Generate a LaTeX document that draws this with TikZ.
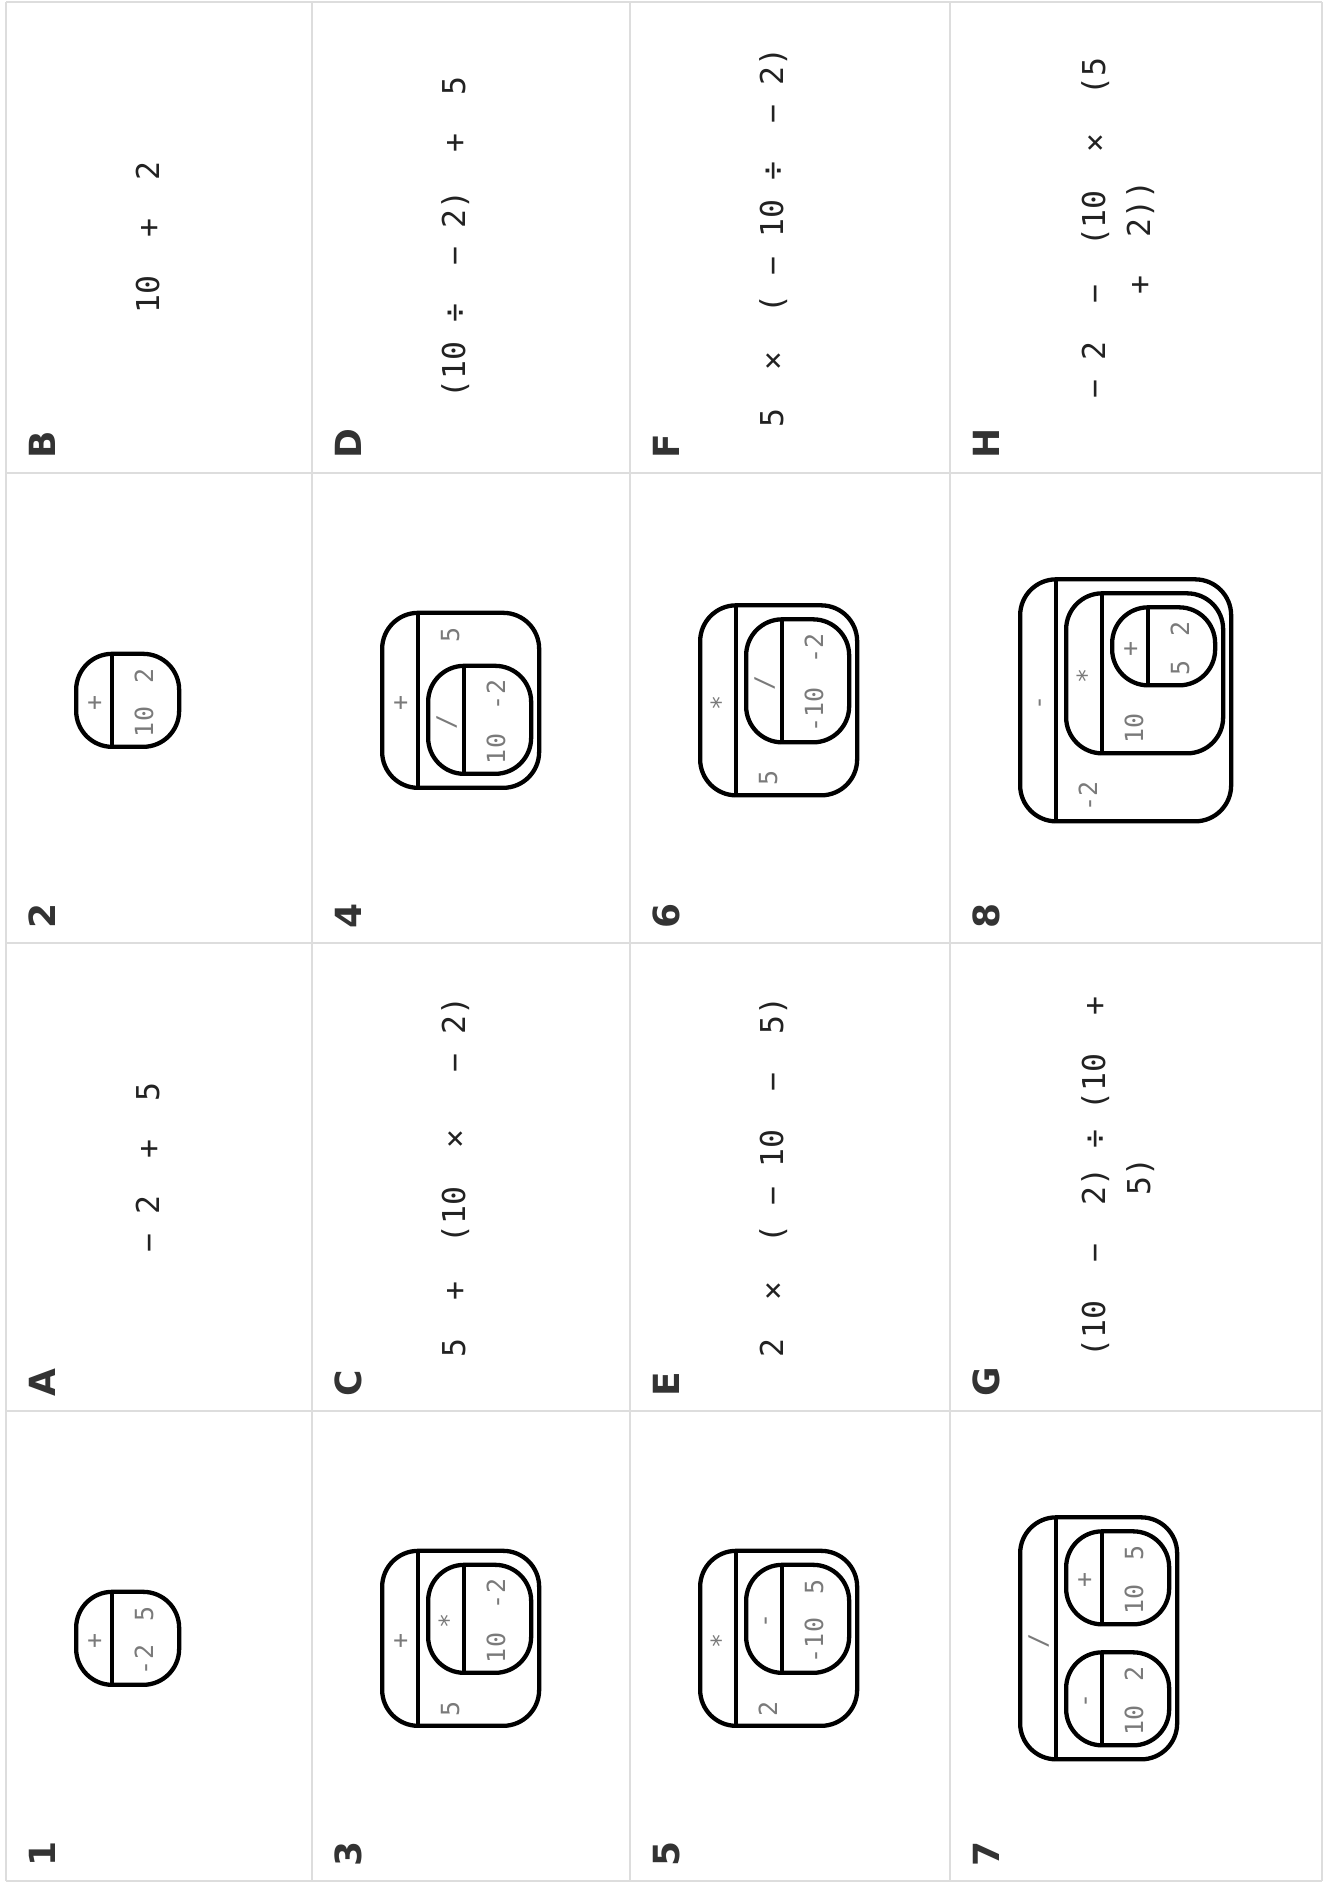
\documentclass[tikz,border=0pt]{standalone}
\usepackage{fontspec}
\newfontfamily\exprfont{DejaVu Sans Mono}
\newfontfamily\tagfont{DejaVu Sans}
\definecolor{gridgray}{HTML}{DDDDDD}
\definecolor{argray}{HTML}{7A7A7A}
\definecolor{inkdark}{HTML}{222222}
\definecolor{tagdark}{HTML}{333333}

\begin{document}
\begin{tikzpicture}[
        x=1pt, y=-1pt,
        opbox/.style={rectangle, draw=black, line width=4.3pt, rounded corners=36pt, inner sep=0pt, anchor=north west},
        divider/.style={draw=black, line width=4.3pt},
        optext/.style={anchor=base, inner sep=0pt, text=argray, font=\exprfont\fontsize{25}{30}\selectfont},
        startext/.style={optext, yshift=-2.5pt},
        argtext/.style={optext},
        exprtext/.style={anchor=base, inner sep=0pt, text=inkdark, font=\exprfont\fontsize{31.5}{38}\selectfont},
        celltag/.style={anchor=base west, inner sep=0pt, text=tagdark, font=\tagfont\bfseries\fontsize{36}{40}\selectfont},
        gridline/.style={draw=gridgray, line width=2pt}
    ]
    \begin{scope}[rotate=90, transform shape]
    \useasboundingbox (0,0) rectangle (1883,1328);

    \foreach \cu in {2,472,940,1410,1881}
        \draw[gridline] (\cu,6) -- (\cu,1322);
    \foreach \rv in {6,312,630,950,1322}
        \draw[gridline] (2,\rv) -- (1881,\rv);

    \foreach \tag/\cu/\rv in {1/2/6, A/472/6, 2/940/6, B/1410/6, 3/2/312, C/472/312, 4/940/312, D/1410/312,
                              5/2/630, E/472/630, 6/940/630, F/1410/630, 7/2/950, G/472/950, 8/940/950, H/1410/950}
        \node[celltag] (tag\tag) at (\cu+14,\rv+49) {\tag};

    \node[exprtext] (exA) at (706,159) {~−~2~~+~~5};
    \node[exprtext] (exB) at (1645.5,159) {10~~+~~2};
    \node[exprtext] (exC) at (706,465) {5~~+~~(10~~×~~~−~2)};
    \node[exprtext] (exD) at (1645.5,465) {(10~÷~~−~2)~~+~~5};
    \node[exprtext] (exE) at (706,783) {2~~×~~(~−~10~~−~~5)};
    \node[exprtext] (exF) at (1645.5,783) {5~~×~~(~−~10~÷~~−~2)};
    \node[exprtext] (exG) at (706,1105) {(10~~−~~2)~÷~(10~~+};
    \node[exprtext] (exGb) at (706,1150) {5)};
    \node[exprtext] (exH) at (1645.5,1105) {~−~2~~−~~(10~~×~~(5};
    \node[exprtext] (exHb) at (1645.5,1150) {+~~2))};

    \node[opbox, minimum width=93pt, minimum height=103pt] (b1) at (196,74) {};
    \draw[divider] (196,112) -- (289,112);
    \node[optext] (b1op) at (242.5,102.5) {+};
    \node[argtext] (b1x) at (223,153) {-2};
    \node[argtext] (b1y) at (269.5,153) {5};

    \node[opbox, minimum width=93pt, minimum height=103pt] (b2) at (1134,74) {};
    \draw[divider] (1134,112) -- (1227,112);
    \node[optext] (b2op) at (1180.5,102.5) {+};
    \node[argtext] (b2x) at (1161,153) {10};
    \node[argtext] (b2y) at (1207.5,153) {2};

    \node[opbox, minimum width=175pt, minimum height=157pt] (b3) at (155,380) {};
    \draw[divider] (155,418) -- (330,418);
    \node[optext] (b3op) at (242.5,408.5) {+};
    \node[argtext] (b3x) at (174.5,459) {5};
    \node[opbox, minimum width=108pt, minimum height=103pt] (b3in) at (208,426) {};
    \draw[divider] (208,464) -- (316,464);
    \node[startext] (b3inop) at (262,454.5) {*};
    \node[argtext] (b3inx) at (235,505) {10};
    \node[argtext] (b3iny) at (289,505) {-2};

    \node[opbox, minimum width=175pt, minimum height=157pt] (b4) at (1093,380) {};
    \draw[divider] (1093,418) -- (1268,418);
    \node[optext] (b4op) at (1180.5,408.5) {+};
    \node[opbox, minimum width=108pt, minimum height=103pt] (b4in) at (1107,426) {};
    \draw[divider] (1107,464) -- (1215,464);
    \node[optext] (b4inop) at (1161,454.5) {/};
    \node[argtext] (b4inx) at (1134,505) {10};
    \node[argtext] (b4iny) at (1188,505) {-2};
    \node[argtext] (b4y) at (1248.5,459) {5};

    \node[opbox, minimum width=175pt, minimum height=157pt] (b5) at (155,698) {};
    \draw[divider] (155,736) -- (330,736);
    \node[startext] (b5op) at (242.5,726.5) {*};
    \node[argtext] (b5x) at (174.5,777) {2};
    \node[opbox, minimum width=108pt, minimum height=103pt] (b5in) at (208,744) {};
    \draw[divider] (208,782) -- (316,782);
    \node[optext] (b5inop) at (262,772.5) {-};
    \node[argtext] (b5inx) at (242.5,823) {-10};
    \node[argtext] (b5iny) at (296.5,823) {5};

    \node[opbox, minimum width=190pt, minimum height=157pt] (b6) at (1085.5,698) {};
    \draw[divider] (1085.5,736) -- (1275.5,736);
    \node[startext] (b6op) at (1180.5,726.5) {*};
    \node[argtext] (b6x) at (1105,777) {5};
    \node[opbox, minimum width=123pt, minimum height=103pt] (b6in) at (1138.5,744) {};
    \draw[divider] (1138.5,782) -- (1261.5,782);
    \node[optext] (b6inop) at (1200,772.5) {/};
    \node[argtext] (b6inx) at (1173,823) {-10};
    \node[argtext] (b6iny) at (1234.5,823) {-2};

    \node[opbox, minimum width=242pt, minimum height=157pt] (b7) at (121.5,1018) {};
    \draw[divider] (121.5,1056) -- (363.5,1056);
    \node[optext] (b7op) at (242.5,1046.5) {/};
    \node[opbox, minimum width=93pt, minimum height=103pt] (b7a) at (135.5,1064) {};
    \draw[divider] (135.5,1102) -- (228.5,1102);
    \node[optext] (b7aop) at (182,1092.5) {-};
    \node[argtext] (b7ax) at (162.5,1143) {10};
    \node[argtext] (b7ay) at (209,1143) {2};
    \node[opbox, minimum width=93pt, minimum height=103pt] (b7b) at (256.5,1064) {};
    \draw[divider] (256.5,1102) -- (349.5,1102);
    \node[optext] (b7bop) at (303,1092.5) {+};
    \node[argtext] (b7bx) at (283.5,1143) {10};
    \node[argtext] (b7by) at (330,1143) {5};

    \node[opbox, minimum width=242pt, minimum height=211pt] (b8) at (1059.5,1018) {};
    \draw[divider] (1059.5,1056) -- (1301.5,1056);
    \node[optext] (b8op) at (1180.5,1046.5) {-};
    \node[argtext] (b8x) at (1086.5,1097) {-2};
    \node[opbox, minimum width=160pt, minimum height=157pt] (b8mid) at (1127.5,1064) {};
    \draw[divider] (1127.5,1102) -- (1287.5,1102);
    \node[startext] (b8midop) at (1207.5,1092.5) {*};
    \node[argtext] (b8midx) at (1154.5,1143) {10};
    \node[opbox, minimum width=78pt, minimum height=103pt] (b8in) at (1195.5,1110) {};
    \draw[divider] (1195.5,1148) -- (1273.5,1148);
    \node[optext] (b8inop) at (1234.5,1138.5) {+};
    \node[argtext] (b8inx) at (1215,1189) {5};
    \node[argtext] (b8iny) at (1254,1189) {2};
    \end{scope}
\end{tikzpicture}
\end{document}
